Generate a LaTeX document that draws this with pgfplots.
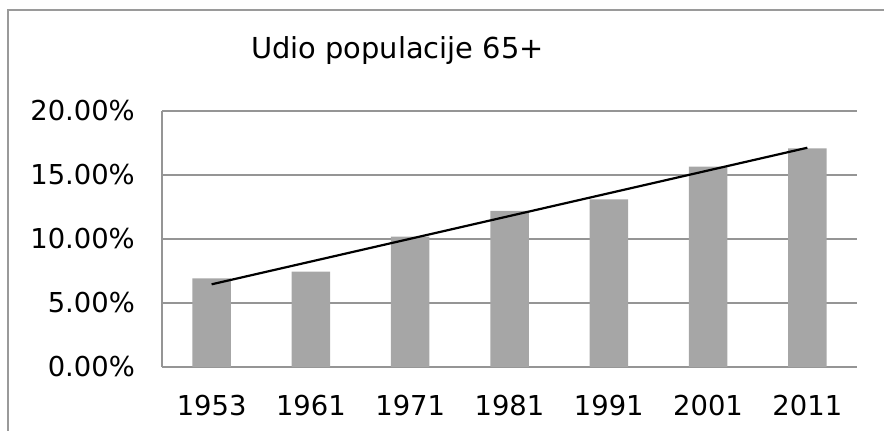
\documentclass[border=0pt]{standalone}
\usepackage{pgfplots}
\pgfplotsset{compat=1.18}
\usepackage{fontspec}
\setmainfont{DejaVu Sans}
\definecolor{barc}{HTML}{A6A6A6}
\definecolor{gridc}{HTML}{959595}
\definecolor{framec}{HTML}{9A9A9A}
\begin{document}
\begin{tikzpicture}
\path[use as bounding box] (0,0) rectangle (884bp,431bp);
\draw[framec, line width=1.8bp] (8bp,0bp) -- (8bp,421bp) -- (884bp,421bp);
\node[anchor=base, inner sep=0pt, font=\fontsize{29}{34}\selectfont] at (397.5bp,372bp) {Udio populacije 65+};
\begin{axis}[
  at={(162bp,64bp)}, anchor=south west,
  scale only axis, width=695bp, height=256bp,
  xmin=-0.5, xmax=6.5, ymin=0, ymax=20,
  xtick={0,1,2,3,4,5,6},
  xticklabels={1953,1961,1971,1981,1991,2001,2011},
  ytick={0,5,10,15,20},
  yticklabels={0.00\%,5.00\%,10.00\%,15.00\%,20.00\%},
  major tick length=0pt,
  axis x line*=bottom,
  axis y line*=left,
  x axis line style={draw=none},
  y axis line style={draw=gridc, line width=2bp, -},
  ymajorgrids,
  major grid style={draw=gridc, line width=2bp},
  xticklabel style={anchor=north, inner sep=0pt, yshift=-28bp, font=\fontsize{27.5}{31}\selectfont},
  yticklabel style={anchor=east, inner sep=0pt, xshift=-27bp, font=\fontsize{27.5}{31}\selectfont},
  clip=false,
]
\addplot[ybar, bar width=38.5bp, fill=barc, draw=none] coordinates {
  (0,6.93) (1,7.45) (2,10.18) (3,12.19) (4,13.10) (5,15.65) (6,17.08)
};
\addplot[black, line width=2.2bp, no markers] coordinates {
  (0,6.46) (6,17.13)
};
\end{axis}
\end{tikzpicture}
\end{document}
